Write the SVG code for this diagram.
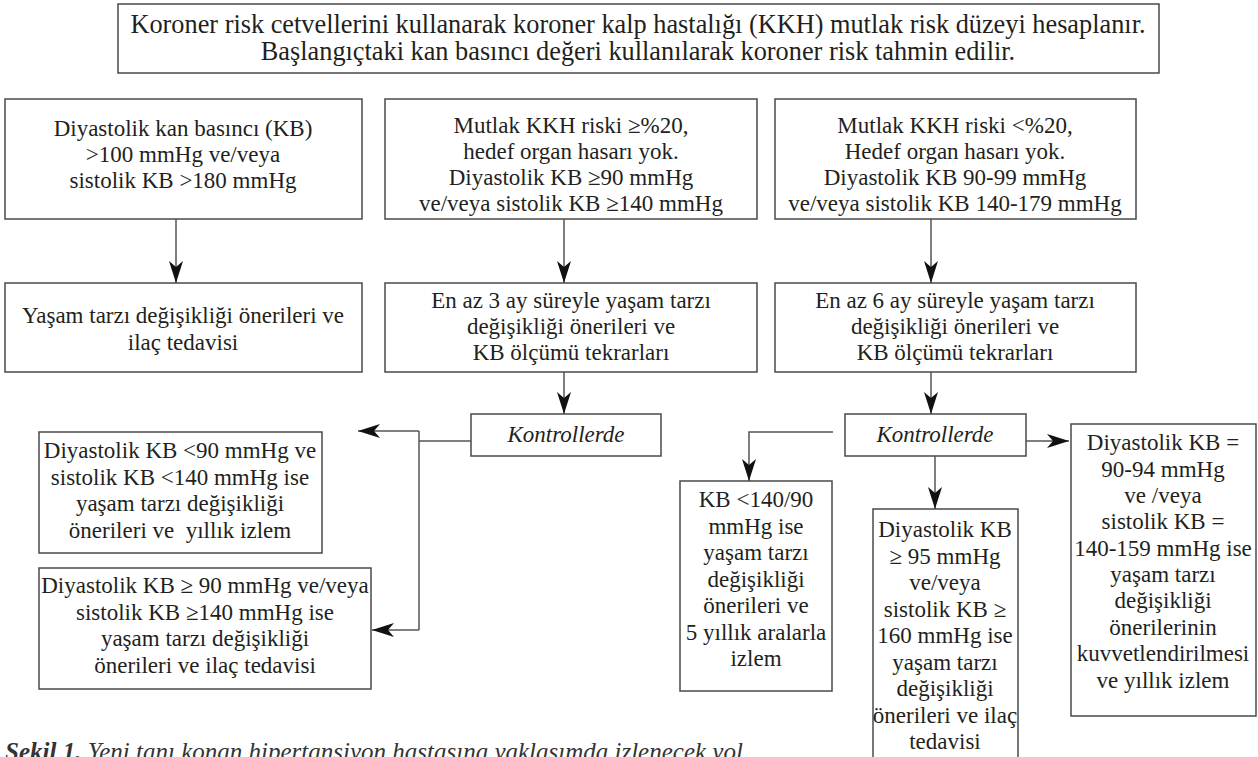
<svg xmlns="http://www.w3.org/2000/svg" width="1258" height="757" viewBox="0 0 1258 757">
<style>
.box{fill:#fff;stroke:#4a4a4a;stroke-width:1.5}
.t{font-family:"Liberation Serif",serif;font-size:23px;fill:#231f20;text-anchor:middle}
.tt{font-size:26.3px}
.it{font-style:italic}
.conn{stroke:#555;stroke-width:1.5;fill:none}
.cap{font-family:"Liberation Serif",serif;font-size:25px;fill:#333;font-style:italic}
</style>
<defs>
<marker id="ah" markerUnits="userSpaceOnUse" markerWidth="24" markerHeight="14" refX="22" refY="7" orient="auto">
<path d="M0,0 L22,7 L0,14 L6,7 Z" fill="#111"/>
</marker>
</defs>
<rect width="1258" height="757" fill="#fff"/>

<g id="top">
<rect class="box" x="118" y="4" width="1041" height="69"/>
<text class="t tt" x="638" y="33">Koroner risk cetvellerini kullanarak koroner kalp hastalığı (KKH) mutlak risk düzeyi hesaplanır.</text>
<text class="t tt" x="638" y="60">Başlangıçtaki kan basıncı değeri kullanılarak koroner risk tahmin edilir.</text>
</g>

<g id="a1">
<rect class="box" x="5" y="99" width="357" height="120"/>
<text class="t"><tspan x="183" y="136">Diyastolik kan basıncı (KB)</tspan><tspan x="183" y="162">&gt;100 mmHg ve/veya</tspan><tspan x="183" y="188">sistolik KB &gt;180 mmHg</tspan></text>
</g>
<g id="b1">
<rect class="box" x="385" y="99" width="372" height="120"/>
<text class="t"><tspan x="571" y="133">Mutlak KKH riski ≥%20,</tspan><tspan x="571" y="159">hedef organ hasarı yok.</tspan><tspan x="571" y="185">Diyastolik KB ≥90 mmHg</tspan><tspan x="571" y="211">ve/veya sistolik KB ≥140 mmHg</tspan></text>
</g>
<g id="c1">
<rect class="box" x="775" y="99" width="361" height="120"/>
<text class="t"><tspan x="955" y="133">Mutlak KKH riski &lt;%20,</tspan><tspan x="955" y="159">Hedef organ hasarı yok.</tspan><tspan x="955" y="185">Diyastolik KB 90-99 mmHg</tspan><tspan x="955" y="211">ve/veya sistolik KB 140-179 mmHg</tspan></text>
</g>

<g id="a2">
<rect class="box" x="5" y="283" width="357" height="89"/>
<text class="t"><tspan x="183" y="323">Yaşam tarzı değişikliği önerileri ve</tspan><tspan x="183" y="350">ilaç tedavisi</tspan></text>
</g>
<g id="b2">
<rect class="box" x="385" y="283" width="372" height="89"/>
<text class="t"><tspan x="571" y="308">En az 3 ay süreyle yaşam tarzı</tspan><tspan x="571" y="334">değişikliği önerileri ve</tspan><tspan x="571" y="360">KB ölçümü tekrarları</tspan></text>
</g>
<g id="c2">
<rect class="box" x="775" y="283" width="361" height="89"/>
<text class="t"><tspan x="955" y="308">En az 6 ay süreyle yaşam tarzı</tspan><tspan x="955" y="334">değişikliği önerileri ve</tspan><tspan x="955" y="360">KB ölçümü tekrarları</tspan></text>
</g>

<g id="k1">
<rect class="box" x="471" y="414" width="190" height="42"/>
<text class="t it" x="566" y="442">Kontrollerde</text>
</g>
<g id="k2">
<rect class="box" x="845" y="414" width="181" height="42"/>
<text class="t it" x="935" y="442">Kontrollerde</text>
</g>

<g id="l1">
<rect class="box" x="39" y="432" width="283" height="121"/>
<text class="t"><tspan x="180" y="458">Diyastolik KB &lt;90 mmHg ve</tspan><tspan x="180" y="485">sistolik KB &lt;140 mmHg ise</tspan><tspan x="180" y="511">yaşam tarzı değişikliği</tspan><tspan x="180" y="538" xml:space="preserve">önerileri ve  yıllık izlem</tspan></text>
</g>
<g id="l2">
<rect class="box" x="39" y="568" width="332" height="121"/>
<text class="t"><tspan x="205" y="593">Diyastolik KB ≥ 90 mmHg ve/veya</tspan><tspan x="205" y="620">sistolik KB ≥140 mmHg ise</tspan><tspan x="205" y="646">yaşam tarzı değişikliği</tspan><tspan x="205" y="673">önerileri ve ilaç tedavisi</tspan></text>
</g>

<g id="r1">
<rect class="box" x="680" y="481" width="152" height="210"/>
<text class="t"><tspan x="756" y="507">KB &lt;140/90</tspan><tspan x="756" y="534">mmHg ise</tspan><tspan x="756" y="560">yaşam tarzı</tspan><tspan x="756" y="587">değişikliği</tspan><tspan x="756" y="613">önerileri ve</tspan><tspan x="756" y="640">5 yıllık aralarla</tspan><tspan x="756" y="666">izlem</tspan></text>
</g>
<g id="r2">
<rect class="box" x="873" y="509" width="145" height="270"/>
<text class="t"><tspan x="945" y="537">Diyastolik KB</tspan><tspan x="945" y="564">≥ 95 mmHg</tspan><tspan x="945" y="590">ve/veya</tspan><tspan x="945" y="617">sistolik KB ≥</tspan><tspan x="945" y="643">160 mmHg ise</tspan><tspan x="945" y="670">yaşam tarzı</tspan><tspan x="945" y="696">değişikliği</tspan><tspan x="945" y="723">önerileri ve ilaç</tspan><tspan x="945" y="749">tedavisi</tspan></text>
</g>
<g id="r3">
<rect class="box" x="1071" y="424" width="185" height="292"/>
<text class="t"><tspan x="1163" y="450">Diyastolik KB =</tspan><tspan x="1163" y="477">90-94 mmHg</tspan><tspan x="1163" y="503">ve /veya</tspan><tspan x="1163" y="529">sistolik KB =</tspan><tspan x="1163" y="556">140-159 mmHg ise</tspan><tspan x="1163" y="582">yaşam tarzı</tspan><tspan x="1163" y="608">değişikliği</tspan><tspan x="1163" y="635">önerilerinin</tspan><tspan x="1163" y="661">kuvvetlendirilmesi</tspan><tspan x="1163" y="688">ve yıllık izlem</tspan></text>
</g>

<g id="connectors">
<line class="conn" x1="176" y1="219" x2="176" y2="283" marker-end="url(#ah)"/>
<line class="conn" x1="564" y1="219" x2="564" y2="283" marker-end="url(#ah)"/>
<line class="conn" x1="931" y1="219" x2="931" y2="283" marker-end="url(#ah)"/>
<line class="conn" x1="564" y1="372" x2="564" y2="414" marker-end="url(#ah)"/>
<line class="conn" x1="931" y1="372" x2="931" y2="414" marker-end="url(#ah)"/>
<line class="conn" x1="471" y1="441" x2="419" y2="441"/>
<path class="conn" d="M419,431 L419,630"/>
<line class="conn" x1="419" y1="431" x2="358" y2="431" marker-end="url(#ah)"/>
<line class="conn" x1="419" y1="630" x2="372" y2="630" marker-end="url(#ah)"/>
<path class="conn" d="M833,432 L749,432 L749,481" marker-end="url(#ah)"/>
<line class="conn" x1="935" y1="456" x2="935" y2="509" marker-end="url(#ah)"/>
<line class="conn" x1="1026" y1="441" x2="1069" y2="441" marker-end="url(#ah)"/>
</g>

<g id="caption">
<text class="cap" x="5" y="760"><tspan font-weight="bold">Şekil 1.</tspan> Yeni tanı konan hipertansiyon hastasına yaklaşımda izlenecek yol</text>
</g>
</svg>
